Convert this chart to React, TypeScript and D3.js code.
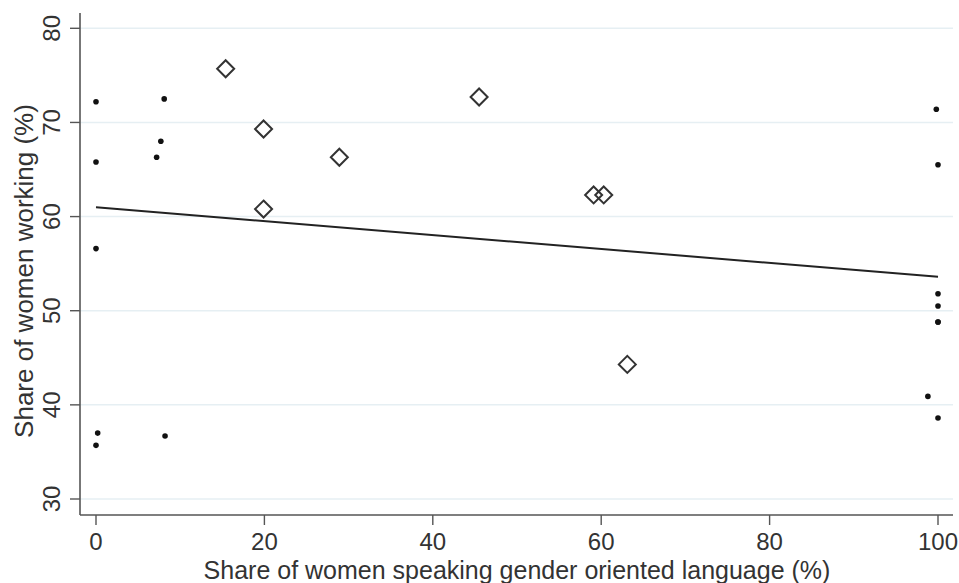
import * as d3 from 'd3';

// Countries where only one language group is present (small dots)
const dotX = [0, 0, 0, 0.2, 0, 8.1, 7.7, 7.2, 8.2, 99.8, 100, 100, 100, 100, 100, 98.8, 100];
const dotY = [72.2, 65.8, 56.6, 37.0, 35.7, 72.5, 68.0, 66.3, 36.7, 71.4, 65.5, 51.8, 50.5, 48.8, 48.8, 40.9, 38.6];

// Mixed-language countries (hollow diamonds)
const diamondX = [15.4, 19.9, 19.9, 28.9, 45.5, 59.1, 60.3, 63.1];
const diamondY = [75.7, 69.3, 60.8, 66.3, 72.7, 62.3, 62.3, 44.3];

const fitX = [0, 100];
const fitY = [61.0, 53.6];

const xTicks = [0, 20, 40, 60, 80, 100];
const yTicks = [30, 40, 50, 60, 70, 80];

const W = 959;
const H = 583;
const FONT = '"Liberation Sans", Arial, Helvetica, sans-serif';
const TEXT = '#333';
const AXIS = '#555';

export default function App() {
  const x = d3.scaleLinear().domain([0, 100]).range([96, 938]);
  const y = d3.scaleLinear().domain([30, 80]).range([499, 28.3]);

  const axisLeft = 80;
  const axisBottom = 515;
  const plotTop = 13;
  const plotRight = 953;

  const line = d3.line<number>()
    .x((_, i) => x(fitX[i]))
    .y((d) => y(d));

  const diamond = (cx: number, cy: number, r: number) =>
    `M${cx},${cy - r}L${cx + r},${cy}L${cx},${cy + r}L${cx - r},${cy}Z`;

  return (
    <svg width={W} height={H} style={{ position: 'absolute', left: 0, top: 0, background: '#fff' }}
      fontFamily={FONT}>
      {/* grid */}
      {yTicks.map((t) => (
        <line key={`g${t}`} x1={axisLeft} x2={plotRight} y1={y(t)} y2={y(t)} stroke="#e6eff3" strokeWidth={1.5} />
      ))}

      {/* axes */}
      <line x1={axisLeft} x2={axisLeft} y1={plotTop} y2={axisBottom} stroke={AXIS} strokeWidth={1.6} />
      <line x1={axisLeft} x2={plotRight} y1={axisBottom} y2={axisBottom} stroke={AXIS} strokeWidth={1.6} />

      {yTicks.map((t) => (
        <g key={`y${t}`}>
          <line x1={axisLeft - 10} x2={axisLeft} y1={y(t)} y2={y(t)} stroke={AXIS} strokeWidth={1.4} />
          <text transform={`translate(60,${y(t)}) rotate(-90)`} textAnchor="middle" fontSize={24} fill={TEXT}>
            {t}
          </text>
        </g>
      ))}
      {xTicks.map((t) => (
        <g key={`x${t}`}>
          <line x1={x(t)} x2={x(t)} y1={axisBottom} y2={axisBottom + 10} stroke={AXIS} strokeWidth={1.4} />
          <text x={x(t)} y={550} textAnchor="middle" fontSize={24} fill={TEXT}>
            {t}
          </text>
        </g>
      ))}

      <text x={517} y={579} textAnchor="middle" fontSize={25} fill={TEXT}>
        Share of women speaking gender oriented language (%)
      </text>
      <text transform={`translate(33,271) rotate(-90)`} textAnchor="middle" fontSize={26} fill={TEXT}>
        Share of women working (%)
      </text>

      {/* fit line */}
      <path d={line(fitY) ?? ''} fill="none" stroke="#222" strokeWidth={2} />

      {/* dots */}
      {dotX.map((v, i) => (
        <circle key={`d${i}`} cx={x(v)} cy={y(dotY[i])} r={2.8} fill="#111" />
      ))}

      {/* diamonds */}
      {diamondX.map((v, i) => (
        <path key={`m${i}`} d={diamond(x(v), y(diamondY[i]), 8.5)} fill="none" stroke="#333" strokeWidth={2} />
      ))}
    </svg>
  );
}
